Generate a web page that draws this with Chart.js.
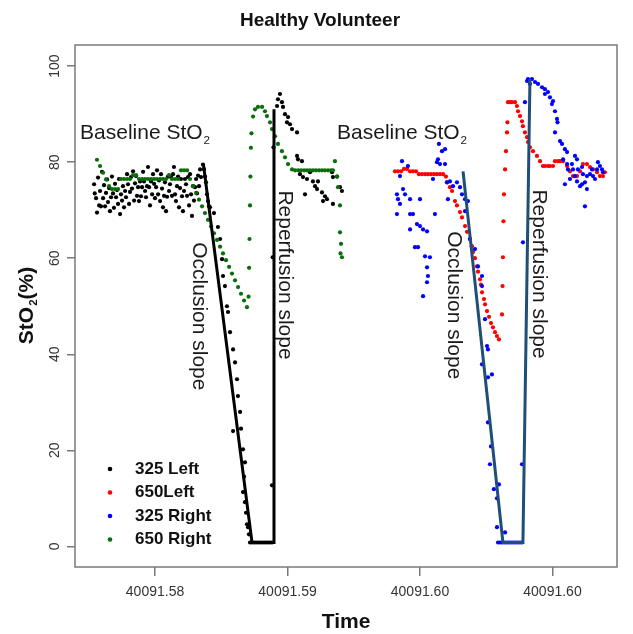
<!DOCTYPE html>
<html>
<head>
<meta charset="utf-8">
<script src="https://cdn.jsdelivr.net/npm/chart.js@4.4.1/dist/chart.umd.min.js"></script>
<style>
  html, body { margin: 0; padding: 0; background: #fff; }
  canvas { display: block; }
</style>
</head>
<body>
<canvas id="chart" width="633" height="634"></canvas>
<script>
// time is in units of 0.0001 day after 40091.57
const xTickValues = [100, 200, 300, 400];
const xTickLabels = ["40091.58", "40091.59", "40091.60", "40091.60"];
const yTickValues = [0, 20, 40, 60, 80, 100];

// 325 Left (black)
const s325Left = [
  [54.0,75.4],[54.5,73.5],[55.5,72.5],[56.2,69.5],[57.0,76.8],[57.8,71.0],[58.5,74.0],[59.2,70.8],[60.0,78.0],[60.8,72.5],
  [61.5,75.2],[62.3,70.8],[63.0,73.6],[63.8,76.4],[64.5,71.7],[65.3,74.6],[66.0,69.8],[66.8,72.7],[67.5,77.0],[68.3,73.5],
  [69.0,70.5],[69.8,75.5],[70.6,72.7],[71.3,74.2],[72.1,71.3],[72.8,76.5],[73.6,69.2],[74.3,73.3],[75.1,72.0],[75.8,75.0],
  [76.6,70.6],[77.4,74.0],[78.1,72.7],[78.9,77.5],[79.6,75.4],[80.4,71.3],[81.1,73.8],[81.9,76.9],[82.6,74.5],[83.4,78.1],
  [84.2,72.0],[84.9,75.6],[85.7,77.1],[86.4,73.0],[87.2,74.8],[87.9,71.9],[88.7,76.0],[89.4,72.9],[90.2,74.8],[91.0,78.0],
  [91.7,76.0],[92.5,74.0],[93.2,72.7],[94.0,75.0],[94.7,79.0],[95.5,74.8],[96.2,71.0],[97.0,76.0],[97.8,73.3],[98.5,77.5],
  [99.3,75.5],[100.0,72.5],[100.8,74.8],[101.5,78.3],[102.3,73.3],[103.0,76.2],[103.8,71.9],[104.5,77.5],[105.3,74.5],[106.0,70.6],
  [106.8,73.0],[107.5,75.8],[108.3,69.8],[109.1,72.8],[109.8,77.0],[110.6,74.0],[111.3,75.4],[112.1,76.9],[112.8,73.0],[113.6,77.5],
  [114.3,79.0],[115.1,73.3],[115.8,71.9],[116.6,75.0],[117.4,77.0],[118.1,70.6],[118.9,74.6],[119.6,76.5],[120.4,72.9],[121.1,69.8],
  [121.9,74.0],[122.6,76.5],[123.4,75.4],[124.2,73.0],[124.9,76.9],[125.7,71.0],[126.4,77.5],[127.2,73.3],[127.9,68.8],[128.7,75.0],
  [129.4,72.0],[130.2,74.8],[131.0,76.5],[131.7,73.5],[132.5,77.2],[133.2,75.0],[134.0,78.5],[134.7,76.9],[136.2,79.5],[137.0,78.5],
  [137.7,77.0],[138.5,75.8],[139.2,73.3],[140.0,71.9],[140.8,70.8],[141.5,70.6],[144.5,69.4],[147.5,66.5],[149.1,64.0],[150.6,59.8],
  [151.3,56.3],[152.8,54.2],[154.3,50.0],[155.1,48.8],[156.6,44.6],[158.9,41.0],[160.4,38.3],[161.9,34.8],[162.6,31.3],[158.9,24.0],
  [164.2,28.0],[164.9,24.5],[166.4,20.2],[167.9,17.5],[167.2,14.5],[166.4,11.3],[167.9,9.2],[168.7,7.0],[169.4,4.6],[170.2,4.0],
  [170.9,2.5],[171.7,0.8],[173.2,0.8],[174.7,0.8],[176.2,0.8],[177.7,0.8],[179.2,0.8],[180.8,0.8],[182.3,0.8],[183.8,0.8],
  [185.3,0.8],[186.8,0.8],[188.3,0.8],[188.3,12.7],[188.8,60.2],[189.4,83.1],[192.1,91.7],[192.8,93.1],[194.3,94.2],[195.8,92.5],
  [196.6,91.5],[198.1,90.0],[199.6,88.3],[200.4,89.4],[201.9,87.9],[203.4,86.9],[207.2,86.2],[207.2,81.3],[207.9,80.6],[209.4,77.5],
  [210.9,80.2],[211.7,76.9],[213.2,73.3],[214.7,76.5],[217.0,77.9],[219.2,76.0],[220.8,75.0],[222.3,74.4],[223.0,76.0],[226.0,73.7],
  [226.8,71.9],[228.3,72.9],[229.8,72.3],[233.6,77.9],[234.3,76.9],[234.3,71.3],[237.4,77.0],[239.6,74.8],[241.1,74.0]
];

// 650Left (red)
const s650Left = [
  [281.1,78.1],[283.4,78.1],[285.7,78.1],[287.9,78.6],[290.2,78.6],[292.5,78.1],[294.7,78.1],[297.0,78.1],[299.2,77.5],[301.5,77.5],
  [303.8,77.5],[306.0,77.5],[308.3,77.5],[310.6,77.5],[312.8,77.5],[315.1,77.5],[317.4,77.5],[319.6,77.0],[320.4,75.8],[322.6,74.8],
  [324.2,74.0],[326.4,71.9],[327.9,71.0],[330.2,69.6],[331.7,68.5],[334.0,66.7],[335.5,65.5],[337.7,64.0],[339.2,62.5],[340.0,61.3],
  [341.5,60.0],[343.0,58.3],[343.8,57.2],[345.3,55.6],[346.0,54.5],[346.8,52.9],[348.3,51.5],[349.1,50.4],[350.6,49.0],[352.1,47.8],
  [353.6,46.5],[355.1,45.6],[356.6,44.6],[358.1,43.8],[359.6,43.1],[361.9,48.3],[362.3,54.2],[362.6,60.2],[363.0,67.7],[363.4,73.3],
  [364.2,78.5],[364.9,82.3],[365.7,86.2],[366.0,88.3],[366.4,92.5],[367.9,92.5],[369.4,92.5],[371.7,92.5],[373.2,91.7],[374.0,90.6],
  [375.5,89.6],[377.0,88.5],[377.7,87.5],[379.2,86.2],[380.8,85.2],[381.5,84.2],[383.0,83.1],[385.3,82.3],[388.3,81.3],[390.6,80.2],
  [392.8,79.2],[394.3,79.2],[396.6,79.2],[398.1,79.2],[400.4,79.2],[401.9,80.2],[404.2,80.2],[405.7,80.2],[408.0,80.2],[411.0,79.2],
  [413.2,78.1],[415.5,77.1],[418.5,77.1],[420.8,78.1],[423.0,79.6],[426.0,79.6],[428.3,79.0],[430.6,78.5],[433.6,77.9],[435.8,77.1],
  [438.1,77.1],[439.6,77.9]
];

// 325 Right (blue)
const s325Right = [
  [286.4,80.2],[290.9,79.2],[284.9,77.1],[282.6,73.3],[287.2,74.4],[288.7,73.3],[283.4,72.3],[284.9,71.3],[282.6,69.2],[292.5,72.3],
  [292.5,69.2],[294.7,69.2],[300.0,72.3],[297.7,67.1],[300.0,66.7],[302.3,66.0],[305.3,65.6],[292.5,66.0],[296.2,62.3],[298.5,62.3],
  [303.8,60.4],[307.5,60.2],[305.3,58.1],[306.0,56.3],[305.3,55.0],[302.3,52.1],[309.8,76.5],[311.3,69.2],[312.8,80.0],[313.6,80.6],
  [315.1,79.6],[316.6,82.3],[318.9,82.7],[314.3,83.8],[318.9,79.6],[320.4,75.8],[322.6,76.0],[324.9,75.0],[327.9,75.8],[330.2,74.8],
  [331.7,73.3],[334.0,72.3],[336.2,71.9],[321.1,72.3],[334.0,69.8],[337.7,64.0],[341.5,61.9],[343.8,58.3],[346.8,56.3],[346.8,54.2],
  [349.1,47.3],[350.6,41.7],[351.3,41.0],[346.8,37.9],[354.3,35.8],[351.3,35.2],[351.3,25.8],[353.6,20.8],[352.8,17.1],[355.8,11.9],
  [359.6,12.9],[358.1,10.0],[358.1,4.0],[364.2,2.9],[358.9,0.8],[360.4,0.8],[361.9,0.8],[363.4,0.8],[364.9,0.8],[366.4,0.8],
  [367.9,0.8],[369.4,0.8],[370.9,0.8],[372.5,0.8],[374.0,0.8],[375.5,0.8],[377.0,0.8],[377.0,17.1],[377.7,63.3],[379.2,92.5],
  [380.8,96.9],[381.5,97.3],[383.0,96.3],[384.5,97.3],[386.8,96.7],[389.1,96.3],[392.1,95.6],[394.3,95.2],[394.3,94.2],[396.6,94.6],
  [398.1,93.5],[399.6,92.1],[400.4,92.7],[401.9,90.6],[403.4,89.0],[403.8,88.3],[401.9,86.2],[405.7,84.4],[407.2,83.8],[409.4,82.7],
  [411.0,82.1],[408.0,80.6],[417.0,81.3],[418.5,80.6],[414.7,79.6],[411.0,79.6],[411.7,78.5],[415.5,78.5],[419.2,78.5],[422.3,79.0],
  [417.0,77.1],[413.2,76.5],[409.4,75.4],[423.0,77.5],[426.0,77.1],[428.3,77.5],[430.6,77.1],[433.6,78.5],[434.3,80.0],[435.8,79.2],
  [437.4,78.5],[438.1,77.9],[424.5,75.8],[422.3,75.4],[420.8,75.0],[426.0,74.4],[418.5,76.0],[424.5,70.8],[429.8,78.5],[432.1,76.5]
];

// 650 Right (green)
const s650Right = [
  [56.2,80.5],[58.5,79.2],[60.8,77.8],[63.0,76.4],[65.3,75.0],[67.5,74.4],[69.8,74.4],[72.1,74.4],[74.3,76.5],[76.6,76.5],
  [78.9,76.5],[81.1,76.5],[83.4,77.3],[85.7,77.3],[87.9,76.5],[90.2,76.5],[92.5,76.5],[94.7,76.5],[97.0,76.5],[99.3,76.5],
  [101.5,76.5],[103.8,76.5],[106.0,76.5],[108.3,76.5],[110.6,77.3],[112.8,76.5],[115.1,76.5],[117.4,76.5],[119.6,78.3],[121.9,78.3],
  [124.2,78.3],[126.4,76.5],[128.7,75.0],[131.0,73.6],[133.2,72.2],[135.5,70.8],[137.7,69.4],[140.0,68.0],[142.3,66.6],[144.5,65.2],
  [146.8,63.8],[149.1,62.4],[151.3,61.0],[153.6,59.6],[155.9,58.2],[158.1,56.8],[160.4,55.4],[162.7,54.0],[164.9,52.6],[167.2,51.2],
  [169.4,49.8],[170.6,52.0],[171.0,58.0],[171.3,64.0],[171.7,71.0],[172.0,77.0],[172.4,83.0],[172.8,86.0],[174.0,89.5],[175.5,91.0],
  [177.7,91.5],[180.8,91.5],[183.0,90.6],[184.5,89.6],[186.8,88.3],[188.3,86.9],[190.6,85.4],[192.8,83.8],[195.8,82.3],[198.1,81.0],
  [200.4,79.6],[203.4,78.5],[205.7,78.3],[208.0,78.3],[210.2,78.3],[212.5,78.3],[214.7,78.3],[217.0,78.3],[219.3,78.3],[221.5,78.3],
  [223.8,78.3],[226.1,78.3],[228.3,78.3],[230.6,78.3],[232.9,78.3],[234.3,78.3],[235.8,80.2],[237.4,77.0],[238.1,74.8],[239.6,71.0],
  [239.6,65.4],[240.4,63.0],[240.0,61.0],[241.1,60.2]
];

// fitted slopes (occlusion, floor, reperfusion)
const slopeLeft = [[136.6,79.4],[173.2,0.8],[189.1,0.8],[189.8,91.0]];
const slopeRight = [[332.5,78.1],[362.6,0.8],[377.7,0.8],[383.0,97.3]];

// text notes placed in data coordinates
const notes = [
  { parts: [["Baseline StO"], ["2", true]], x: 43.4, y: 86.3, rot: 0, align: "left" },
  { parts: [["Baseline StO"], ["2", true]], x: 237.4, y: 86.3, rot: 0, align: "left" },
  { parts: [["Occlusion slope"]], x: 134.7, y: 47.9, rot: 90, align: "center" },
  { parts: [["Occlusion slope"]], x: 327.2, y: 50.2, rot: 90, align: "center" },
  { parts: [["Reperfusion slope"]], x: 199.6, y: 56.5, rot: 90, align: "center" },
  { parts: [["Reperfusion slope"]], x: 391.3, y: 56.7, rot: 90, align: "center" }
];

const FONT = '"Liberation Sans", Arial, sans-serif';
const toPts = arr => arr.map(p => ({ x: p[0], y: p[1] }));

function drawParts(ctx, parts, size, weight, x, y, align) {
    let widths = parts.map(p => {
        ctx.font = weight + " " + (p[1] ? size * 0.55 : size) + "px " + FONT;
        return ctx.measureText(p[0]).width;
    });
    let total = widths.reduce((a, b) => a + b, 0);
    let cx = align === "center" ? x - total / 2 : x;
    ctx.textAlign = "left";
    ctx.textBaseline = "alphabetic";
    parts.forEach((p, i) => {
        ctx.font = weight + " " + (p[1] ? size * 0.55 : size) + "px " + FONT;
        ctx.fillText(p[0], cx + (p[1] ? 1 : 0), y + size * 0.36 + (p[1] ? size * 0.2 : 0));
        cx += widths[i] + (p[1] ? 1 : 0);
    });
}

const pointSet = (label, data, color, order) => ({
    label, data: toPts(data), backgroundColor: color, borderWidth: 0,
    pointRadius: 2.1, showLine: false, order
});
const lineSet = (label, data, color, order) => ({
    label, data: toPts(data), borderColor: color, borderWidth: 3,
    pointRadius: 0, showLine: true, tension: 0, order
});

const legendItems = [
    { text: "325 Left", color: "#000000" },
    { text: "650Left", color: "#ff0000" },
    { text: "325 Right", color: "#0000ff" },
    { text: "650 Right", color: "#0a6e0a" }
];

const overlay = {
    id: "overlay",
    afterDraw(chart) {
        const { ctx, chartArea: a, scales: { x, y } } = chart;
        ctx.save();
        ctx.strokeStyle = "#7a7a7a";
        ctx.lineWidth = 1.5;
        ctx.strokeRect(a.left, a.top, a.right - a.left, a.bottom - a.top);

        // y tick labels, turned like R does
        ctx.fillStyle = "#333";
        ctx.font = "14px " + FONT;
        ctx.textAlign = "center";
        ctx.textBaseline = "middle";
        y.ticks.forEach(t => {
            ctx.save();
            ctx.translate(a.left - 20, y.getPixelForValue(t.value));
            ctx.rotate(-Math.PI / 2);
            ctx.fillText(String(t.value), 0, 0);
            ctx.restore();
        });

        // notes
        ctx.fillStyle = "#1a1a1a";
        notes.forEach(n => {
            ctx.save();
            ctx.translate(x.getPixelForValue(n.x), y.getPixelForValue(n.y));
            ctx.rotate(n.rot * Math.PI / 180);
            drawParts(ctx, n.parts, 21, "normal", 0, 0, n.align);
            ctx.restore();
        });

        // legend
        legendItems.forEach((it, i) => {
            const py = a.top + 424 + i * 23.5;
            ctx.fillStyle = it.color;
            ctx.beginPath();
            ctx.arc(a.left + 35, py, 2.3, 0, Math.PI * 2);
            ctx.fill();
            ctx.fillStyle = "#111";
            ctx.font = "bold 17px " + FONT;
            ctx.textAlign = "left";
            ctx.textBaseline = "middle";
            ctx.fillText(it.text, a.left + 60, py);
        });

        // titles
        ctx.fillStyle = "#111";
        ctx.font = "bold 19px " + FONT;
        ctx.textAlign = "center";
        ctx.textBaseline = "middle";
        ctx.fillText("Healthy Volunteer", 320, 21);
        ctx.font = "bold 21px " + FONT;
        ctx.fillText("Time", (a.left + a.right) / 2, 622);
        ctx.save();
        ctx.translate(25, (a.top + a.bottom) / 2);
        ctx.rotate(-Math.PI / 2);
        drawParts(ctx, [["StO"], ["2", true], ["(%)"]], 21, "bold", 0, 0, "center");
        ctx.restore();
        ctx.restore();
    }
};

new Chart(document.getElementById("chart"), {
    type: "scatter",
    data: {
        datasets: [
            lineSet("slope right", slopeRight, "#1f4e79", 0),
            pointSet("325 Right", s325Right, "#0000ff", 1),
            pointSet("650Left", s650Left, "#ff0000", 2),
            lineSet("slope left", slopeLeft, "#000000", 3),
            pointSet("650 Right", s650Right, "#0a6e0a", 4),
            pointSet("325 Left", s325Left, "#000000", 5)
        ]
    },
    options: {
        responsive: false,
        animation: false,
        devicePixelRatio: 1,
        events: [],
        layout: { padding: { top: 45, right: 16, left: 0, bottom: 0 } },
        plugins: { legend: { display: false }, tooltip: { enabled: false } },
        scales: {
            x: {
                type: "linear",
                min: 39.6,
                max: 448.7,
                afterBuildTicks: s => { s.ticks = xTickValues.map(v => ({ value: v })); },
                afterFit: s => { s.height = 67; },
                ticks: {
                    callback: (v, i) => xTickLabels[i],
                    font: { family: FONT, size: 14 },
                    color: "#333",
                    padding: 8,
                    maxRotation: 0
                },
                grid: { drawOnChartArea: false, drawTicks: true, tickLength: 9, color: "#7a7a7a", lineWidth: 1.5 },
                border: { display: false }
            },
            y: {
                min: -4.3,
                max: 104.4,
                afterBuildTicks: s => { s.ticks = yTickValues.map(v => ({ value: v })); },
                afterFit: s => { s.width = 75; },
                ticks: { display: false },
                grid: { drawOnChartArea: false, drawTicks: true, tickLength: 8, color: "#7a7a7a", lineWidth: 1.5 },
                border: { display: false }
            }
        }
    },
    plugins: [overlay]
});
</script>
</body>
</html>
